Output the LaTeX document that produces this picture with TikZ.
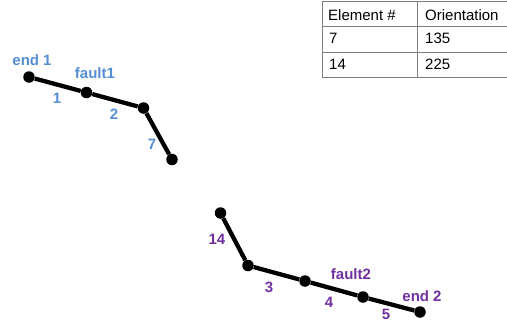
\documentclass[tikz,border=0pt]{standalone}
\usepackage{fontspec}
\setmainfont{Liberation Sans}
\definecolor{faultblue}{HTML}{558ED5}
\definecolor{faultpurple}{HTML}{7030A0}
\definecolor{gridgray}{HTML}{7F7F7F}
\begin{document}
\begin{tikzpicture}[x=1pt,y=-1pt,
  vtx/.style={circle,fill=black,inner sep=0pt,minimum size=11.5pt},
  seg/.style={line width=4.3pt,black},
  lblA/.style={text=faultblue,font=\fontsize{15}{18}\selectfont\bfseries,anchor=base,inner sep=0pt},
  lblB/.style={text=faultpurple,font=\fontsize{15}{18}\selectfont\bfseries,anchor=base,inner sep=0pt},
  cell/.style={font=\fontsize{15}{18}\selectfont,anchor=base west,inner sep=0pt},
  rule/.style={gridgray,line width=0.9pt}]
\useasboundingbox (0,0) rectangle (507,322);

% table of element orientations
\coordinate (tl) at (322,1);
\coordinate (tr) at (508,1);
\coordinate (r1l) at (322,26);
\coordinate (r1r) at (508,26);
\coordinate (r2l) at (322,52);
\coordinate (r2r) at (508,52);
\coordinate (bl) at (322,77);
\coordinate (br) at (508,77);
\coordinate (mt) at (417,1);
\coordinate (mb) at (417,77);
\draw[rule] (tl) -- (tr);
\draw[rule] (r1l) -- (r1r);
\draw[rule] (r2l) -- (r2r);
\draw[rule] (bl) -- (br);
\draw[rule] (tl) -- (bl);
\draw[rule] (mt) -- (mb);
\node[cell] (h1) at (328,20) {Element \#};
\node[cell] (h2) at (425,20) {Orientation};
\node[cell] (c11) at (329,43.5) {7};
\node[cell] (c12) at (425,43.5) {135};
\node[cell] (c21) at (329,69.5) {14};
\node[cell] (c22) at (425,69.5) {225};

% fault 1
\node[vtx] (a0) at (29,77) {};
\node[vtx] (a1) at (86.5,92.5) {};
\node[vtx] (a2) at (143.5,108) {};
\node[vtx] (a3) at (172,159.5) {};
\draw[seg] (a0) -- (a1);
\draw[seg] (a1) -- (a2);
\draw[seg] (a2) -- (a3);
\node[lblA] (e1) at (32,65.5) {end 1};
\node[lblA] (f1) at (95,78.5) {fault1};
\node[lblA] (n1) at (57,103.5) {1};
\node[lblA] (n2) at (114,119) {2};
\node[lblA] (n7) at (152,149.5) {7};

% fault 2
\node[vtx] (b0) at (220.5,213) {};
\node[vtx] (b1) at (248,265.5) {};
\node[vtx] (b2) at (305,281) {};
\node[vtx] (b3) at (363,297) {};
\node[vtx] (b4) at (420,312) {};
\draw[seg] (b0) -- (b1);
\draw[seg] (b1) -- (b2);
\draw[seg] (b2) -- (b3);
\draw[seg] (b3) -- (b4);
\node[lblB] (n14) at (217,244) {14};
\node[lblB] (n3) at (269,292.5) {3};
\node[lblB] (n4) at (329,307.5) {4};
\node[lblB] (f2) at (351,279) {fault2};
\node[lblB] (e2) at (422,301) {end 2};
\node[lblB] (n5) at (386,319) {5};
\end{tikzpicture}
\end{document}
